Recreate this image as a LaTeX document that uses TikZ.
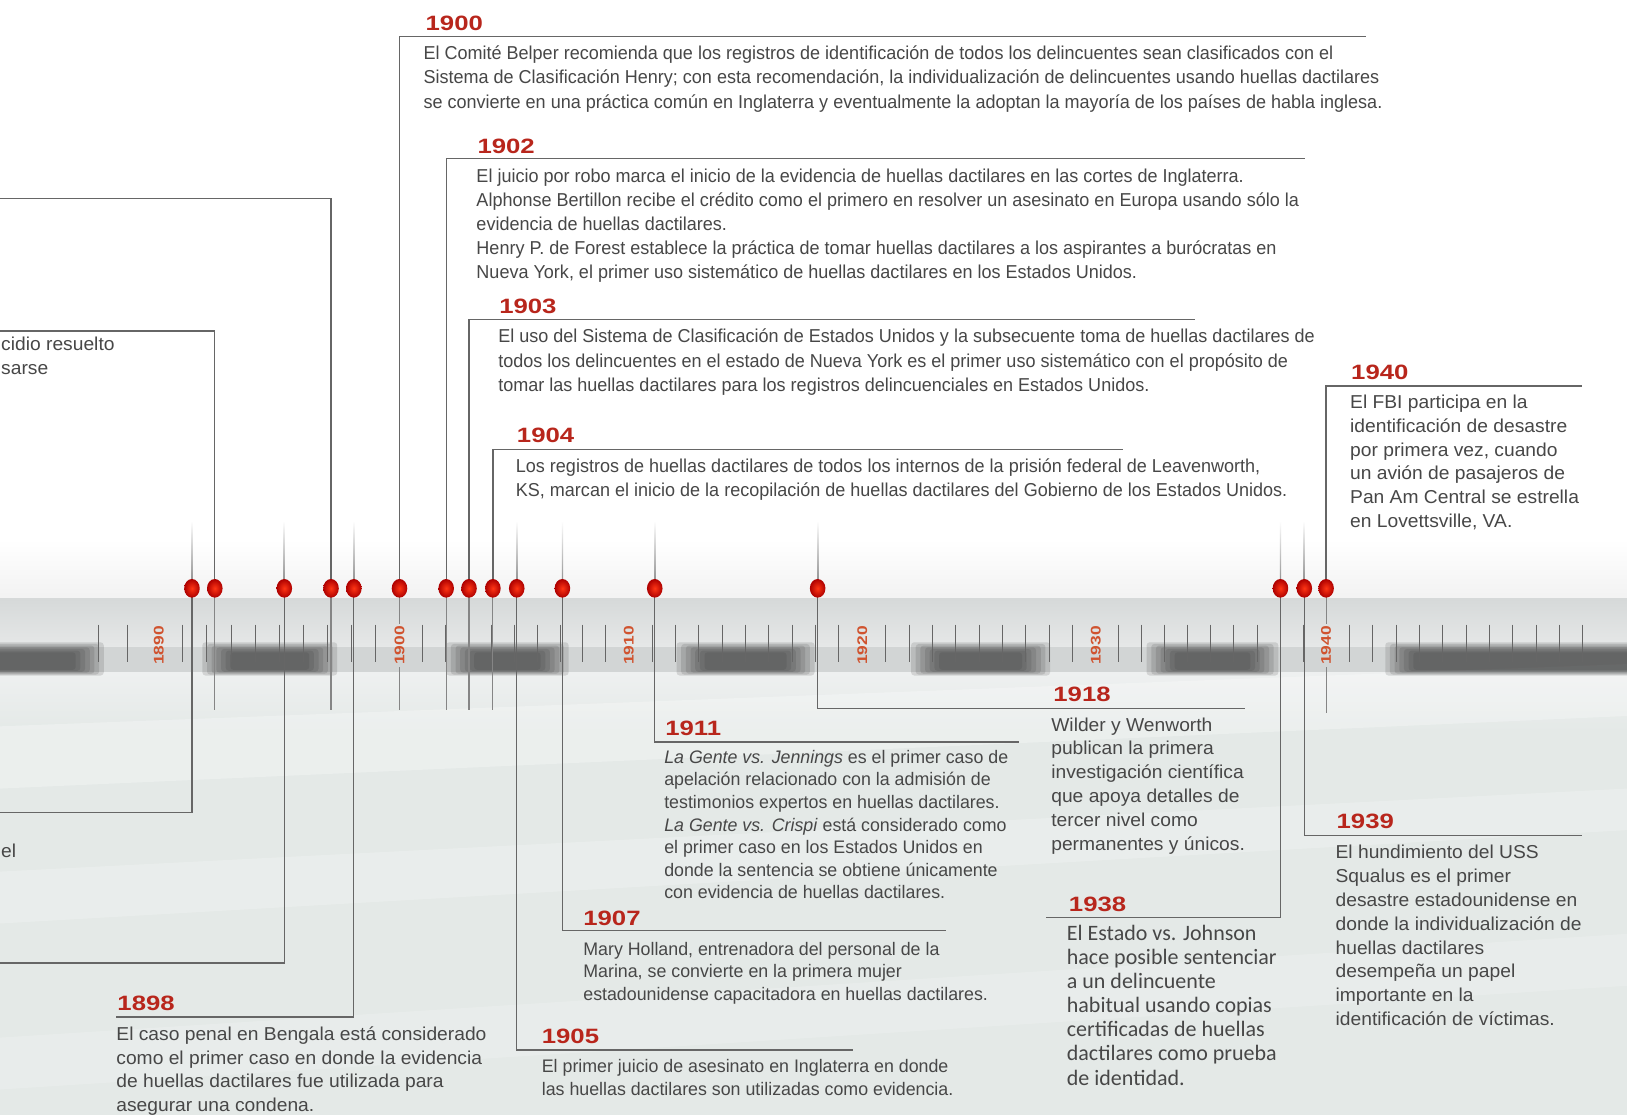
\documentclass[tikz,border=0pt]{standalone}
\usepackage{fontspec}
\setmainfont{Liberation Sans}
\newfontfamily\fA{Liberation Sans}[FakeStretch=0.965]
\newfontfamily\fB{Liberation Sans}[FakeStretch=1.03]
\newfontfamily\fC{Liberation Sans}[FakeStretch=0.98]
\newfontfamily\fY{Liberation Sans}[FakeStretch=1.24]
\newfontfamily\fJ{Carlito}
\usetikzlibrary{shapes.geometric}
\definecolor{txt}{HTML}{474747}
\definecolor{yr}{HTML}{B8261C}
\definecolor{ln}{HTML}{666666}
\definecolor{bgc}{HTML}{E4E9E7}
\definecolor{bandtop}{HTML}{D6D9D9}
\definecolor{bandmid}{HTML}{E6E8E8}
\definecolor{barbase}{HTML}{D2D5D5}
\definecolor{bandlow}{HTML}{EEF0F0}
\definecolor{axyr}{HTML}{D0532F}
\newcommand{\lns}[1]{\parbox[t]{1100pt}{\raggedright #1}}
\begin{document}
\begin{tikzpicture}[x=1pt,y=-1pt,
  conn/.style={draw=ln, line width=1.2pt},
  stub/.style={draw=ln!80, line width=1.1pt},
  tickmark/.style={draw=black!60, line width=0.9pt},
  evdot/.style={ellipse, minimum width=15pt, minimum height=18pt, inner sep=0pt, inner color=red!72!orange!92, outer color=red!68!black},
  yrlab/.style={anchor=base west, inner sep=0pt, text=yr, font=\fY\bfseries\fontsize{20}{20}\selectfont},
  axlab/.style={rotate=90, inner sep=0pt, text=axyr, font=\fY\bfseries\fontsize{13.5}{13.5}\selectfont},
  bodyA/.style={anchor=base west, inner sep=0pt, text=txt, font=\fA\fontsize{18}{23.3}\selectfont},
  bodyB/.style={anchor=base west, inner sep=0pt, text=txt, font=\fB\fontsize{18}{23}\selectfont},
  bodyC/.style={anchor=base west, inner sep=0pt, text=txt, font=\fC\fontsize{17.5}{21.8}\selectfont},
  bodyJ/.style={anchor=base west, inner sep=0pt, text=txt, font=\fJ\fontsize{21.2}{23.2}\selectfont},
]
\useasboundingbox (0,0) rectangle (1568,1075);
\clip (0,0) rectangle (1568,1075);
% ---------- background ----------
\fill[white] (0,0) rectangle (1568,1075);
\shade[top color=white, bottom color=black!5] (0,520) rectangle (1568,577);
\shade[top color=bandtop, bottom color=bandmid] (0,577) rectangle (1568,624);
\fill[barbase] (0,624) rectangle (1568,648);
\shade[top color=bandlow, bottom color=bgc] (0,648) rectangle (1568,705);
\fill[bgc] (0,705) rectangle (1568,1075);
\fill[white, opacity=0.28] (0,700) -- (1568,640) -- (1568,690) -- (0,760) -- cycle;
\fill[white, opacity=0.22] (0,840) -- (1568,760) -- (1568,800) -- (0,890) -- cycle;
\fill[white, opacity=0.18] (0,1000) -- (1568,900) -- (1568,950) -- (0,1050) -- cycle;
% ---------- dark bar blocks ----------
\foreach \a/\b in {-60/100, 195/325, 430/548, 652/785, 878/1012, 1105/1232, 1335/1640}{
  \foreach \i in {0,...,6}{
    \fill[black!80, opacity=0.15, rounded corners=3pt] ({\a+\i*4.5},{619+\i*1.6}) rectangle ({\b-\i*4.5},{651-\i*0.9});
  }
}
% ---------- ticks ----------
\foreach \a/\b in {153/385, 385/606, 606/831, 831/1056, 1056/1278}{
  \foreach \k in {1,...,9}{
    \draw[tickmark] ({\a+(\b-\a)*\k/10},602) -- ++(0,36);
  }
}
\foreach \k in {1,...,11}{\draw[tickmark] ({1278+22.5*\k},602) -- ++(0,36);}
\foreach \x in {95,123}{\draw[tickmark] (\x,602) -- ++(0,36);}
% ---------- dot positions ----------
\foreach \n/\x in {a/185, b/207, c/274, d/319, e/341, f/385, g/430, h/452, i/475, j/498, k/542, l/631, m/788, n/1234, o/1257, p/1278}{
  \coordinate (p\n) at (\x,567);
}
% faint upward stubs for lower events
\foreach \x in {185,274,341,498,542,631,788,1234,1257}{
  \shade[top color=white, bottom color=ln!80] (\x-0.6,502) rectangle (\x+0.6,567);
}
% ---------- corner coordinates ----------
\coordinate (cb) at (0,319);
\coordinate (cd) at (0,191);
\coordinate (cf) at (1316,35);
\coordinate (cg) at (1258,153);
\coordinate (ch) at (1152,308);
\coordinate (ci) at (1082,433);
\coordinate (cp) at (1525,372);
\coordinate (ca) at (0,783);
\coordinate (cc) at (0,928);
\coordinate (ce) at (112,980);
\coordinate (cj) at (822,1012);
\coordinate (ck) at (912,897);
\coordinate (cl) at (982,715);
\coordinate (cm) at (1200,683);
\coordinate (cn) at (1008,884);
\coordinate (co) at (1525,805);
% downward stubs of upper events (split around axis labels for 1900/1940)
\foreach \n/\x in {b/207, d/319, g/430, h/452, i/475}{
  \coordinate (s\n) at (\x,684);
  \draw[stub] (p\n) -- (s\n);
}
\coordinate (uf) at (385,601); \coordinate (vf) at (385,643); \coordinate (sf) at (385,684);
\coordinate (up) at (1278,601); \coordinate (vp) at (1278,643); \coordinate (sp) at (1278,687);
\draw[stub] (pf) -- (uf); \draw[stub] (vf) -- (sf);
\draw[stub] (pp) -- (up); \draw[stub] (vp) -- (sp);
% ---------- axis year labels ----------
\node[axlab] (ax1890) at (153,622) {1890};
\node[axlab] (ax1900) at (385,622) {1900};
\node[axlab] (ax1910) at (606,622) {1910};
\node[axlab] (ax1920) at (831,622) {1920};
\node[axlab] (ax1930) at (1056,622) {1930};
\node[axlab] (ax1940) at (1278,622) {1940};
% ---------- connectors ----------
\foreach \n in {a,b,c,d,e,f,g,h,i,j,k,l,m,n,o,p}{
  \draw[conn] (p\n) |- (c\n);
}
% ---------- dots ----------
\foreach \n in {a,b,c,d,e,f,g,h,i,j,k,l,m,n,o,p}{
  \node[evdot] (d\n) at (p\n) {};
}
% ---------- upper texts ----------
\node[yrlab] (y1900) at (410,29.5) {1900};
\node[bodyA] (t1900) at (408,57.5) {\lns{El Comité Belper recomienda que los registros de identificación de todos los delincuentes sean clasificados con el\\
Sistema de Clasificación Henry; con esta recomendación, la individualización de delincuentes usando huellas dactilares\\
se convierte en una práctica común en Inglaterra y eventualmente la adoptan la mayoría de los países de habla inglesa.}};

\node[yrlab] (y1902) at (460,147.5) {1902};
\node[bodyA] (t1902) at (459,175.5) {\lns{El juicio por robo marca el inicio de la evidencia de huellas dactilares en las cortes de Inglaterra.\\
Alphonse Bertillon recibe el crédito como el primero en resolver un asesinato en Europa usando sólo la\\
evidencia de huellas dactilares.\\
Henry P. de Forest establece la práctica de tomar huellas dactilares a los aspirantes a burócratas en\\
Nueva York, el primer uso sistemático de huellas dactilares en los Estados Unidos.}};

\node[yrlab] (y1903) at (481,302.5) {1903};
\node[bodyA] (t1903) at (480,330.5) {\lns{El uso del Sistema de Clasificación de Estados Unidos y la subsecuente toma de huellas dactilares de\\
todos los delincuentes en el estado de Nueva York es el primer uso sistemático con el propósito de\\
tomar las huellas dactilares para los registros delincuenciales en Estados Unidos.}};

\node[yrlab] (y1904) at (498,426.5) {1904};
\node[bodyA] (t1904) at (497,455.5) {\lns{Los registros de huellas dactilares de todos los internos de la prisión federal de Leavenworth,\\
KS, marcan el inicio de la recopilación de huellas dactilares del Gobierno de los Estados Unidos.}};

\node[yrlab] (y1940) at (1302,365.5) {1940};
\node[bodyB] (t1940) at (1301,393.5) {\lns{El FBI participa en la\\
identificación de desastre\\
por primera vez, cuando\\
un avión de pasajeros de\\
Pan Am Central se estrella\\
en Lovettsville, VA.}};

\node[bodyB] (tfr1) at (1,337.5) {cidio resuelto};
\node[bodyB] (tfr2) at (1,360.5) {sarse};
\node[bodyB] (tfr3) at (1,826.5) {el};

% ---------- lower texts ----------
\node[yrlab] (y1898) at (113,973.5) {1898};
\node[bodyB] (t1898) at (112,1002.5) {\lns{El caso penal en Bengala está considerado\\
como el primer caso en donde la evidencia\\
de huellas dactilares fue utilizada para\\
asegurar una condena.}};

\node[yrlab] (y1905) at (522,1005.5) {1905};
\node[bodyC] (t1905) at (522,1033.5) {\lns{El primer juicio de asesinato en Inglaterra en donde\\
las huellas dactilares son utilizadas como evidencia.}};

\node[yrlab] (y1907) at (562,891.5) {1907};
\node[bodyC] (t1907) at (562,920.5) {\lns{Mary Holland, entrenadora del personal de la\\
Marina, se convierte en la primera mujer\\
estadounidense capacitadora en huellas dactilares.}};

\node[yrlab] (y1911) at (641,708.5) {1911};
\node[bodyC] (t1911) at (640,735.5) {\lns{\textit{La Gente vs. Jennings} es el primer caso de\\
apelación relacionado con la admisión de\\
testimonios expertos en huellas dactilares.\\
\textit{La Gente vs. Crispi} está considerado como\\
el primer caso en los Estados Unidos en\\
donde la sentencia se obtiene únicamente\\
con evidencia de huellas dactilares.}};

\node[yrlab] (y1918) at (1015,676.5) {1918};
\node[bodyB] (t1918) at (1013,704.5) {\lns{Wilder y Wenworth\\
publican la primera\\
investigación científica\\
que apoya detalles de\\
tercer nivel como\\
permanentes y únicos.}};

\node[yrlab] (y1938) at (1030,878.5) {1938};
\node[bodyJ] (t1938) at (1028,906.5) {\lns{El Estado vs. Johnson\\
hace posible sentenciar\\
a un delincuente\\
habitual usando copias\\
certificadas de huellas\\
dactilares como prueba\\
de identidad.}};

\node[yrlab] (y1939) at (1288,798.5) {1939};
\node[bodyB] (t1939) at (1287,827.5) {\lns{El hundimiento del USS\\
Squalus es el primer\\
desastre estadounidense en\\
donde la individualización de\\
huellas dactilares\\
desempeña un papel\\
importante en la\\
identificación de víctimas.}};
\end{tikzpicture}
\end{document}
